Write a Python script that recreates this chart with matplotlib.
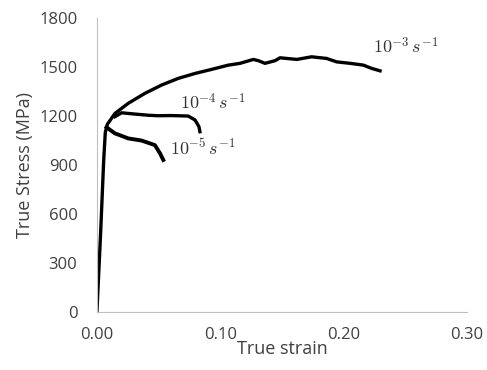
import numpy as np
import matplotlib.pyplot as plt

plt.rcParams['font.family'] = ['Open Sans', 'DejaVu Sans']
plt.rcParams['mathtext.fontset'] = 'cm'

# strain rate 1e-3 /s
strain_3 = [0.0, 0.003, 0.0055, 0.0068, 0.0085, 0.0146, 0.0254, 0.0389, 0.0524, 0.066, 0.0795,
            0.093, 0.1065, 0.116, 0.1268, 0.131, 0.1362, 0.1443, 0.1484, 0.162, 0.174,
            0.1862, 0.1943, 0.2052, 0.216, 0.2227, 0.2295]
stress_3 = [0, 483, 930, 1100, 1150, 1216, 1278, 1339, 1390, 1431, 1461,
            1486, 1512, 1523, 1547, 1539, 1523, 1539, 1557, 1547, 1563,
            1553, 1532, 1523, 1512, 1492, 1477]

# strain rate 1e-4 /s
strain_4 = [0.0146, 0.020, 0.031, 0.0416, 0.0497, 0.0605, 0.074, 0.0795, 0.0827, 0.0835]
stress_4 = [1196, 1220, 1212, 1205, 1202, 1203, 1200, 1176, 1135, 1104]

# strain rate 1e-5 /s
strain_5 = [0.0078, 0.0146, 0.0254, 0.0362, 0.047, 0.0511, 0.0538]
stress_5 = [1131, 1094, 1063, 1050, 1022, 972, 931]

labels = [r'$10^{-3}\,s^{-1}$', r'$10^{-4}\,s^{-1}$', r'$10^{-5}\,s^{-1}$']
label_x = [0.224, 0.0673, 0.0592]
label_y = [1622, 1280, 1004]

fig = plt.figure(figsize=(4.87, 3.70), dpi=100)
ax = fig.add_axes([0.199, 0.157, 0.76, 0.794])

for s, v, w in [(strain_3, stress_3, 2.4), (strain_4, stress_4, 2.4), (strain_5, stress_5, 2.8)]:
    ax.plot(s, v, color='black', lw=w, solid_joinstyle='round')

for lab, x, y in zip(labels, label_x, label_y):
    ax.text(x, y, lab, fontsize=13, color='#333333', ha='left', va='center')

ax.set_xlim(0, 0.3)
ax.set_ylim(0, 1800)
ax.set_xticks([0, 0.1, 0.2, 0.3])
ax.set_xticklabels(['0.00', '0.10', '0.20', '0.30'])
ax.set_yticks(np.arange(0, 1801, 300))
ax.tick_params(length=0, labelsize=12, labelcolor='#404040')
ax.tick_params(axis='y', pad=14)
ax.tick_params(axis='x', pad=11)
for sp in ['top', 'right']:
    ax.spines[sp].set_visible(False)
for sp in ['left', 'bottom']:
    ax.spines[sp].set_color('#bfbfbf')
    ax.spines[sp].set_linewidth(0.8)
ax.set_xlabel('True strain', fontsize=13, color='#404040', labelpad=-2)
ax.set_ylabel('True Stress (MPa)', fontsize=13, color='#404040', labelpad=4)

fig.savefig('out.png', dpi=100)
